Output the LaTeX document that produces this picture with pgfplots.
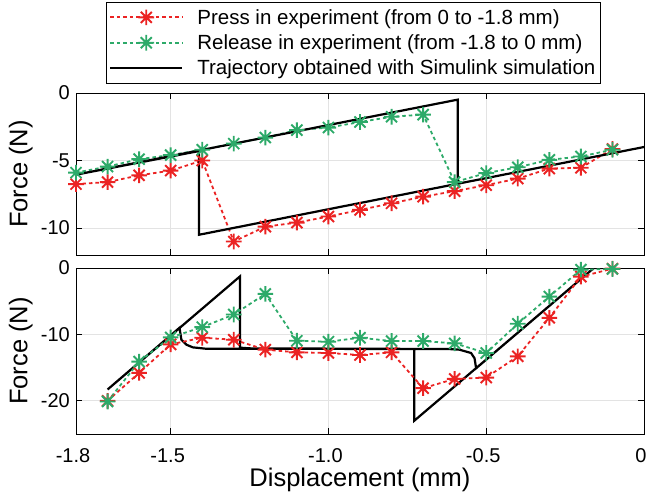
\documentclass[border=0pt]{standalone}
\usepackage{pgfplots}
\pgfplotsset{compat=1.18}
\usepackage{fontspec}
\setmainfont{Liberation Sans}
\definecolor{mred}{RGB}{235,35,35}
\definecolor{mgreen}{RGB}{45,170,105}
\pgfdeclareplotmark{ast8}{%
  \pgfpathmoveto{\pgfpoint{0pt}{\pgfplotmarksize}}\pgfpathlineto{\pgfpoint{0pt}{-\pgfplotmarksize}}%
  \pgfpathmoveto{\pgfpoint{\pgfplotmarksize}{0pt}}\pgfpathlineto{\pgfpoint{-\pgfplotmarksize}{0pt}}%
  \pgfpathmoveto{\pgfpoint{.7071\pgfplotmarksize}{.7071\pgfplotmarksize}}\pgfpathlineto{\pgfpoint{-.7071\pgfplotmarksize}{-.7071\pgfplotmarksize}}%
  \pgfpathmoveto{\pgfpoint{-.7071\pgfplotmarksize}{.7071\pgfplotmarksize}}\pgfpathlineto{\pgfpoint{.7071\pgfplotmarksize}{-.7071\pgfplotmarksize}}%
  \pgfusepathqstroke}
\pgfplotsset{
  mystyle/.style={
    scale only axis, width=568pt,
    xmin=-1.8, xmax=0,
    xtick={-1.8,-1.5,-1,-0.5,0},
    grid=major, major grid style={draw=black!11, line width=0.8pt},
    axis line style={line width=0.9pt},
    tick style={black, line width=0.8pt},
    major tick length=6pt,
    tick align=inside,
    ticklabel style={font=\fontsize{20}{24}\selectfont},
    yticklabel style={inner xsep=6pt},
    label style={font=\fontsize{25.5}{30}\selectfont},
    /pgf/number format/assume math mode=true,
  },
  pressst/.style={color=mred, line width=1.8pt, dash pattern=on 3.5pt off 3pt, mark=ast8, mark size=7.8pt, mark options={solid, line width=1.9pt}},
  relst/.style={color=mgreen, line width=1.8pt, dash pattern=on 3.5pt off 3pt, mark=ast8, mark size=7.8pt, mark options={solid, line width=1.9pt}},
  simst/.style={color=black, line width=2.2pt, no marks},
}
\begin{document}
\begin{tikzpicture}[x=1pt,y=1pt]
\path[use as bounding box] (0,0) rectangle (650,-495);
\begin{axis}[mystyle,
  at={(76pt,-93pt)}, anchor=north west, height=162pt,
  ymin=-12, ymax=0,
  ytick={-10,-5,0},
  xticklabels=\empty,
  ylabel={Force (N)},
  ylabel style={at={(axis description cs:-0.07,0.5)}},
  legend style={at={(0.0528,1.5617)}, anchor=north west,
    font=\fontsize{20.5}{25}\selectfont, draw=black, text=black,
    inner xsep=3pt, inner ysep=5pt, row sep=5pt,
    /tikz/every odd column/.append style={column sep=12pt},
    cells={anchor=west}},
]
\addplot[pressst, legend image code/.code={%
    \draw[draw=mred, line width=1.8pt, dash pattern=on 3.5pt off 3pt] (8pt,0pt) -- (80pt,0pt);
    \draw[draw=mred, color=mred, mark=ast8, mark size=7.8pt, mark options={solid, draw=mred, line width=1.9pt}, only marks] plot coordinates {(44pt,0pt)};}] coordinates {
(-1.8,-6.75) (-1.7,-6.6) (-1.6,-6.1) (-1.5,-5.75) (-1.4,-5.0) (-1.3,-11.0)
(-1.2,-9.9) (-1.1,-9.6) (-1.0,-9.15) (-0.9,-8.66) (-0.8,-8.17) (-0.7,-7.68)
(-0.6,-7.27) (-0.5,-6.83) (-0.4,-6.34) (-0.3,-5.6) (-0.2,-5.54) (-0.1,-4.15)};
\addlegendentry{Press in experiment (from 0 to -1.8 mm)}
\addplot[relst, legend image code/.code={%
    \draw[draw=mgreen, line width=1.8pt, dash pattern=on 3.5pt off 3pt] (8pt,0pt) -- (80pt,0pt);
    \draw[draw=mgreen, color=mgreen, mark=ast8, mark size=7.8pt, mark options={solid, draw=mgreen, line width=1.9pt}, only marks] plot coordinates {(44pt,0pt)};}] coordinates {
(-1.8,-5.9) (-1.7,-5.45) (-1.6,-4.9) (-1.5,-4.6) (-1.4,-4.2) (-1.3,-3.75)
(-1.2,-3.3) (-1.1,-2.75) (-1.0,-2.56) (-0.9,-2.15) (-0.8,-1.76) (-0.7,-1.6)
(-0.6,-6.6) (-0.5,-5.93) (-0.4,-5.5) (-0.3,-4.95) (-0.2,-4.7) (-0.1,-4.2)};
\addlegendentry{Release in experiment (from -1.8 to 0 mm)}
\addplot[simst, legend image code/.code={%
    \draw[draw=black, line width=2.2pt] (8pt,0pt) -- (80pt,0pt);}] coordinates {
(0,-4.0) (-1.41,-10.5) (-1.41,-4.3) (-1.8,-6.05) (-0.59,-0.49) (-0.59,-6.72) (0,-4.0)};
\addlegendentry{Trajectory obtained with Simulink simulation}
\end{axis}
\begin{axis}[mystyle,
  at={(76pt,-268pt)}, anchor=north west, height=166pt,
  ymin=-25, ymax=0,
  ytick={-20,-10,0},
  xticklabels={-1.8,-1.5,-1.0,-0.5,0},
  xticklabel style={yshift=-11pt, xshift=-3pt},
  xlabel={Displacement (mm)},
  xlabel style={yshift=2pt},
  ylabel={Force (N)},
  ylabel style={at={(axis description cs:-0.07,0.5)}},
]
\addplot[simst] coordinates {
(-0.12,0) (-0.159,0) (-0.728,-23) (-0.728,-12.2) (-1.39,-12.15) (-1.43,-11.95)
(-1.45,-11.55) (-1.466,-10.8) (-1.472,-9.0) (-1.70,-18.3) (-1.28,-1.25) (-1.28,-12.0)
(-1.25,-12.1) (-0.62,-12.2) (-0.585,-12.3) (-0.548,-12.8) (-0.537,-13.6) (-0.532,-15.1) (-0.159,0)};
\addplot[pressst] coordinates {
(-1.7,-20.0) (-1.6,-15.8) (-1.5,-11.5) (-1.4,-10.5) (-1.3,-10.8) (-1.2,-12.3)
(-1.1,-12.7) (-1.0,-12.8) (-0.9,-13.1) (-0.8,-12.7) (-0.7,-18.1) (-0.6,-16.7)
(-0.5,-16.5) (-0.4,-13.3) (-0.3,-7.5) (-0.2,-1.3) (-0.1,-0.1)};
\addplot[relst] coordinates {
(-1.7,-20.1) (-1.6,-14.1) (-1.5,-10.45) (-1.4,-8.9) (-1.3,-7.0) (-1.2,-3.9)
(-1.1,-10.95) (-1.0,-11.1) (-0.9,-10.5) (-0.8,-11.0) (-0.7,-11.0) (-0.6,-11.35)
(-0.5,-12.8) (-0.4,-8.4) (-0.3,-4.3) (-0.2,-0.25) (-0.1,-0.15)};
\end{axis}
\end{tikzpicture}
\end{document}
